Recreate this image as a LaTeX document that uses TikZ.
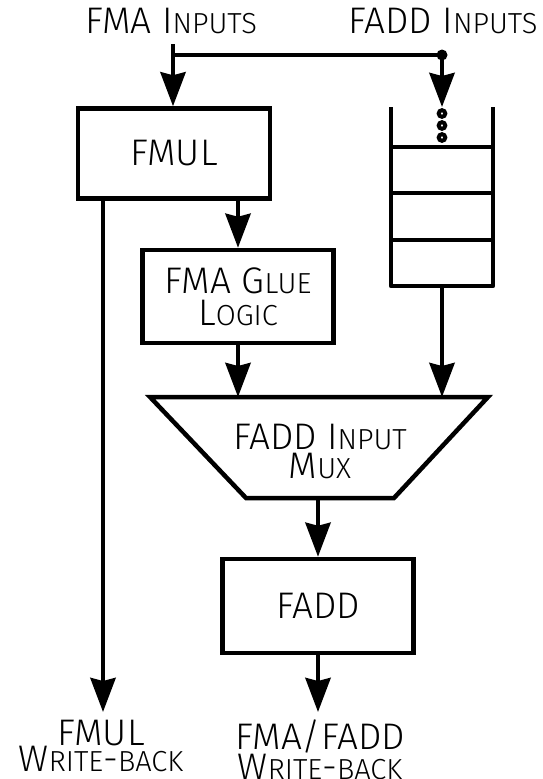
\documentclass[tikz,border=0pt]{standalone}
\usepackage{fontspec}
\setmainfont{Fira Sans Light}
\usetikzlibrary{arrows.meta}
\newcommand\smc[1]{{\fontsize{29}{29}\selectfont #1}}
\begin{document}
\begin{tikzpicture}[x=1pt,y=-1pt,
  font=\fontsize{37}{29}\selectfont,
  wire/.style={line width=4.5pt},
  arr/.style={wire,-{Stealth[length=34pt,width=25pt,inset=3pt]}},
  blk/.style={draw,line width=4.5pt,inner sep=0pt,align=center},
  lbl/.style={align=center,inner sep=0pt}]
\useasboundingbox (0,0) rectangle (542,779);
% labels top
\node[lbl,anchor=base] (fmain) at (171,33) {FMA I\smc{NPUTS}};
\node[lbl,anchor=base] (faddin) at (443,33) {FADD I\smc{NPUTS}};
% blocks
\node[blk,minimum width=192pt,minimum height=90pt] (fmul) at (174,153.5) {FMUL};
\node[blk,minimum width=191pt,minimum height=93pt,font=\fontsize{37}{32}\selectfont] (glue) at (238,296.5) {FMA G\smc{LUE}\\L\smc{OGIC}};
\node[blk,minimum width=191pt,minimum height=94pt] (fadd) at (318,606) {FADD};
% mux
\coordinate (mTL) at (150,397);
\coordinate (mTR) at (488,397);
\coordinate (mBR) at (394,498);
\coordinate (mBL) at (246,498);
\draw[line width=4.5pt] (mTL) -- (mTR) -- (mBR) -- (mBL) -- cycle;
\node[lbl] (mux) at (320,451) {FADD I\smc{NPUT}\\M\smc{UX}};
\coordinate (muxbot) at (318,498);
% stack
\coordinate (sTL) at (391,107);
\coordinate (sTR) at (493,107);
\coordinate (sBL) at (391,286);
\coordinate (sBR) at (493,286);
\draw[wire,line join=round] (sTL) -- (sBL) -- (sBR) -- (sTR);
\coordinate (r1L) at (391,147); \coordinate (r1R) at (493,147);
\coordinate (r2L) at (391,193); \coordinate (r2R) at (493,193);
\coordinate (r3L) at (391,240); \coordinate (r3R) at (493,240);
\draw[wire] (r1L) -- (r1R) (r2L) -- (r2R) (r3L) -- (r3R);
\coordinate (stacktop) at (442,107);
\coordinate (stackbot) at (442,286);
\foreach \y/\n in {113.5/d1,125.5/d2,137.5/d3}
  \draw[line width=4pt,fill=white] (442,\y) circle (3.3pt) coordinate (\n);
% bus
\coordinate (busL) at (173,55);
\coordinate (busR) at (442,55);
\coordinate (fmatop) at (173,44);
\draw[wire] (busL) -- (busR);
\fill (busR) circle (5.5pt);
\draw[arr] (fmatop) -- (fmul.north -| fmatop);
\draw[arr] (busR) -- (stacktop);
% internal arrows
\draw[arr] (glue.north |- fmul.south) -- (glue.north);
\draw[arr] (glue.south) -- (glue.south |- mTL);
\draw[arr] (stackbot) -- (stackbot |- mTL);
\draw[arr] (muxbot) -- (fadd.north);
% outputs
\node[lbl,anchor=north,font=\fontsize{37}{26}\selectfont] (fmulwb) at (101,720) {FMUL\\W\smc{RITE}-\smc{BACK}};
\node[lbl,anchor=north,font=\fontsize{37}{26}\selectfont] (faddwb) at (320,720) {FMA/FADD\\W\smc{RITE}-\smc{BACK}};
\coordinate (fmulout) at (103,198);
\coordinate (fmultip) at (103,712);
\coordinate (faddtip) at (318,712);
\draw[arr] (fmulout) -- (fmultip);
\draw[arr] (fadd.south) -- (faddtip);
\end{tikzpicture}
\end{document}
